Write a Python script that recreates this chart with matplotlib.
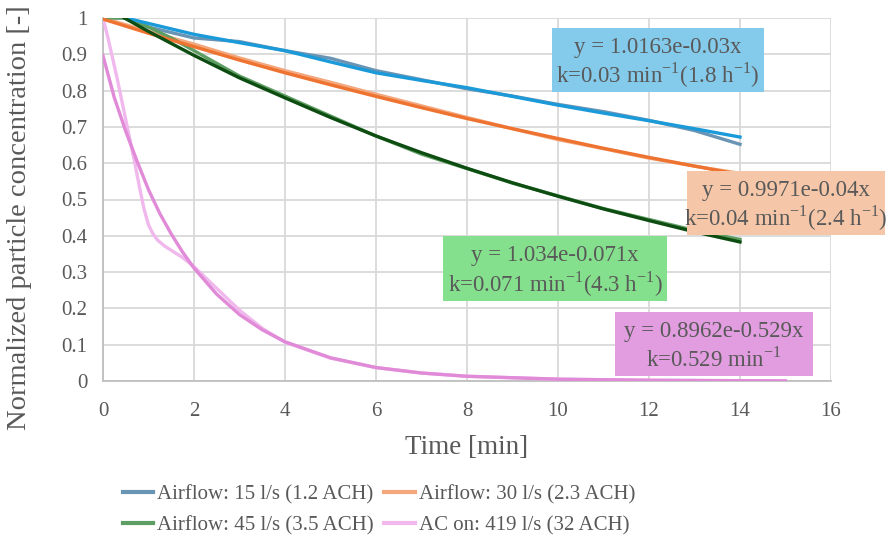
import matplotlib
matplotlib.use("Agg")
import matplotlib.pyplot as plt
from matplotlib.patches import Rectangle

plt.rcParams['font.family'] = ['Liberation Serif', 'DejaVu Serif']
plt.rcParams['mathtext.fontset'] = 'custom'
plt.rcParams['mathtext.rm'] = 'Liberation Serif'

# measured decay curves
x15 = [0, 0.5, 1, 2, 3, 4, 5, 6, 7, 8, 9, 10, 11, 12, 13, 14]
y15 = [1.0, 1.0, 0.975, 0.945, 0.935, 0.91, 0.889, 0.855, 0.83, 0.805, 0.785, 0.762, 0.742, 0.718, 0.69, 0.652]
x30 = [0, 1, 2, 3, 4, 5, 6, 7, 8, 9, 10, 11, 12, 13, 14]
y30 = [1.0, 0.963, 0.928, 0.89, 0.855, 0.823, 0.79, 0.758, 0.726, 0.695, 0.665, 0.64, 0.614, 0.592, 0.572]
x45 = [0, 0.5, 1, 1.5, 2, 3, 4, 5, 6, 7, 8, 9, 10, 11, 12, 13, 14]
y45 = [1.0, 1.0, 0.975, 0.945, 0.91, 0.84, 0.785, 0.73, 0.675, 0.625, 0.585, 0.545, 0.51, 0.475, 0.445, 0.415, 0.39]
xac = [0, 0.1, 0.2, 0.3, 0.4, 0.5, 0.6, 0.7, 0.8, 0.9, 1.0, 1.1, 1.2, 1.35, 1.5, 1.75, 2,
       2.5, 3, 3.5, 4, 5, 6, 7, 8, 10, 12, 15]
yac = [1.0, 0.95, 0.895, 0.84, 0.78, 0.72, 0.66, 0.6, 0.535, 0.475, 0.43, 0.405, 0.388, 0.372, 0.36, 0.34, 0.315,
       0.255, 0.195, 0.145, 0.107, 0.063, 0.037, 0.022, 0.013, 0.005, 0.002, 0.0]

# fitted curves
fx15 = [0.5, 1, 2, 3, 4, 5, 6, 7, 8, 9, 10, 11, 12, 13, 14]
fy15 = [1.0, 0.985, 0.955, 0.932, 0.91, 0.879, 0.849, 0.828, 0.808, 0.784, 0.76, 0.738, 0.717, 0.695, 0.672]
fx30 = [0, 1, 2, 3, 4, 5, 6, 7, 8, 9, 10, 11, 12, 13, 14]
fy30 = [0.997, 0.958, 0.921, 0.884, 0.849, 0.816, 0.784, 0.753, 0.723, 0.695, 0.668, 0.641, 0.616, 0.592, 0.569]
fx45 = [0.47, 1, 2, 3, 4, 5, 6, 7, 8, 9, 10, 11, 12, 13, 14]
fy45 = [1.0, 0.963, 0.897, 0.835, 0.78, 0.726, 0.675, 0.629, 0.586, 0.546, 0.509, 0.474, 0.442, 0.411, 0.383]
fxac = [0, 0.25, 0.5, 0.75, 1, 1.25, 1.5, 1.75, 2, 2.5, 3, 3.5, 4, 5, 6, 7, 8, 10, 12, 15]
fyac = [0.896, 0.78, 0.688, 0.605, 0.527, 0.461, 0.405, 0.355, 0.311, 0.239, 0.183, 0.141, 0.108,
        0.064, 0.037, 0.022, 0.013, 0.005, 0.002, 0.0003]

labels = ['Airflow: 15 l/s (1.2 ACH)', 'Airflow: 30 l/s (2.3 ACH)',
          'Airflow: 45 l/s (3.5 ACH)', 'AC on: 419 l/s (32 ACH)']
eq_lines = ['y = 1.0163e-0.03x', 'y = 0.9971e-0.04x', 'y = 1.034e-0.071x', 'y = 0.8962e-0.529x']
k_lines = [r'k=0.03 min$^{\mathregular{-1}}$(1.8 h$^{\mathregular{-1}}$)',
           r'k=0.04 min$^{\mathregular{-1}}$(2.4 h$^{\mathregular{-1}}$)',
           r'k=0.071 min$^{\mathregular{-1}}$(4.3 h$^{\mathregular{-1}}$)',
           r'k=0.529 min$^{\mathregular{-1}}$']

meas_colors = ['#6a94b4', '#f4a77c', '#5f9e63', '#f0b8ec']
fit_colors = ['#1a9ad8', '#ee7330', '#0d4d12', '#e08ad8']
box_colors = ['#83caeb', '#f5c6a8', '#85e08d', '#e19ddf']
txt = '#595959'

W, H = 892, 546
fig = plt.figure(figsize=(W / 100, H / 100), dpi=100)
ax = fig.add_axes([103 / W, 1 - 381 / H, (831 - 103) / W, (381 - 18) / H])

meas = [(x15, y15), (x30, y30), (x45, y45), (xac, yac)]
fits = [(fx15, fy15), (fx30, fy30), (fx45, fy45), (fxac, fyac)]
handles = []
for i in range(4):
    h, = ax.plot(meas[i][0], meas[i][1], color=meas_colors[i], lw=2.4, zorder=3)
    handles.append(h)
for i in range(4):
    ax.plot(fits[i][0], fits[i][1], color=fit_colors[i], lw=2.4, zorder=4)

ax.set_xlim(0, 16)
ax.set_ylim(0, 1)
ax.set_xticks(range(0, 17, 2))
ax.set_yticks([i / 10 for i in range(11)])
ax.set_yticklabels(['0'] + ['0.%d' % i for i in range(1, 10)] + ['1'])
ax.grid(True, color='#d9d9d9', lw=1.3)
ax.set_axisbelow(True)
for s in ['top', 'right']:
    ax.spines[s].set_visible(False)
for s in ['left', 'bottom']:
    ax.spines[s].set_color('#bfbfbf')
    ax.spines[s].set_linewidth(1.3)
ax.tick_params(length=0, labelsize=15, colors=txt)
ax.tick_params(axis='x', pad=15)
ax.tick_params(axis='y', pad=11)
ax.set_xlabel('Time [min]', fontsize=19.5, color=txt, labelpad=10)
ax.set_ylabel('Normalized particle concentration [-]', fontsize=20.5, color=txt)
ax.yaxis.set_label_coords(-0.097, 0.449)

# equation boxes (pixel boxes: left, top, right, bottom)
boxes = [(552, 28, 764, 92), (687, 171, 885, 235), (443, 236, 667, 301), (615, 312, 813, 376)]
for i, (l, t, r, b) in enumerate(boxes):
    fig.add_artist(Rectangle((l / W, 1 - b / H), (r - l) / W, (b - t) / H,
                             transform=fig.transFigure, facecolor=box_colors[i],
                             edgecolor='none', zorder=5))
    cx = (l + r) / 2 / W
    fig.text(cx, 1 - (t + (b - t) * 0.30) / H, eq_lines[i], ha='center', va='center',
             fontsize=16.5, color=txt, zorder=6)
    fig.text(cx, 1 - (t + (b - t) * 0.74) / H, k_lines[i], ha='center', va='center',
             fontsize=16.5, color=txt, zorder=6)

# legend filled row by row: 15, 30 / 45, AC
order = [0, 2, 1, 3]
fig.legend([handles[i] for i in order], [labels[i] for i in order], ncol=2,
           loc='upper left', bbox_to_anchor=(123 / W, 1 - 485 / H),
           frameon=False, fontsize=15, handlelength=1.45, handletextpad=0.2,
           columnspacing=0.5, labelspacing=0.55, borderpad=0, borderaxespad=0,
           labelcolor=txt)
for lh in fig.legends[0].get_lines():
    lh.set_linewidth(3)

fig.savefig('out.png', dpi=100)
